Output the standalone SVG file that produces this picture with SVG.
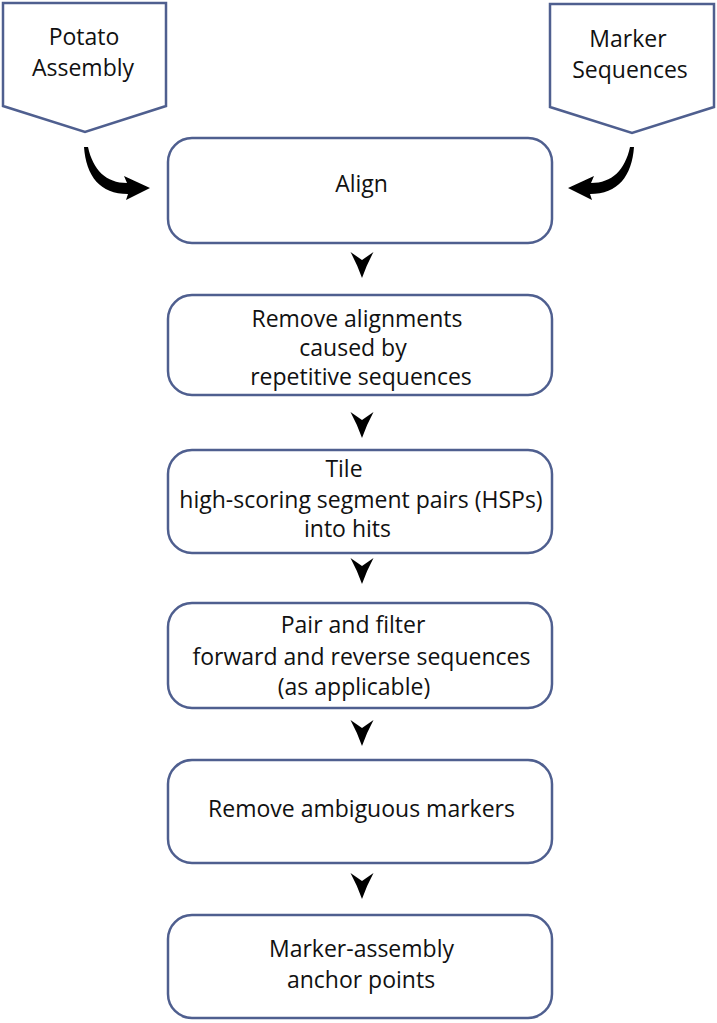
<svg xmlns="http://www.w3.org/2000/svg" width="717" height="1023" viewBox="0 0 717 1023">
<defs>
<style>
.box{fill:#fff;stroke:#4f5f8f;stroke-width:2.5}
.t{font-family:"Open Sans","Noto Sans",sans-serif;font-size:23px;fill:#111;text-anchor:middle}
.ah{fill:#000}
</style>
<path id="dn" d="M-11.5,0 L0,8 L11.5,0 Q5,12 0,26 Q-5,12 -11.5,0 Z"/>
<path id="curl" d="M84,147 C86,176 100,194 128,194 L126,200 L150,188 L124,176 L127,183 C106,183 93,170 88,147 Z"/>
</defs>
<rect width="717" height="1023" fill="#fff"/>
<g id="potato">
<polygon class="box" points="3,3 166,3 166,106 85,132 3,106"/>
<text class="t" x="84" y="45">Potato</text>
<text class="t" x="83" y="76">Assembly</text>
</g>
<g id="markers">
<polygon class="box" points="550,4 714,4 714,107 632,133 550,107"/>
<text class="t" x="628" y="47">Marker</text>
<text class="t" x="630" y="78">Sequences</text>
</g>
<g id="align">
<rect class="box" x="168" y="138" width="384" height="105" rx="24"/>
<text class="t" x="361.5" y="192">Align</text>
</g>
<g id="remove-rep">
<rect class="box" x="168" y="295" width="384" height="100" rx="24"/>
<text class="t" x="357" y="327">Remove alignments</text>
<text class="t" x="353" y="356">caused by</text>
<text class="t" x="361" y="385">repetitive sequences</text>
</g>
<g id="tile">
<rect class="box" x="168" y="450" width="384" height="103" rx="24"/>
<text class="t" x="344" y="477">Tile</text>
<text class="t" x="361" y="508">high-scoring segment pairs (HSPs)</text>
<text class="t" x="347.5" y="537">into hits</text>
</g>
<g id="pair">
<rect class="box" x="168" y="603" width="384" height="105" rx="24"/>
<text class="t" x="353" y="633">Pair and filter</text>
<text class="t" x="361.5" y="665">forward and reverse sequences</text>
<text class="t" x="354" y="695">(as applicable)</text>
</g>
<g id="ambiguous">
<rect class="box" x="168" y="760" width="384" height="103" rx="24"/>
<text class="t" x="361.5" y="817">Remove ambiguous markers</text>
</g>
<g id="anchor">
<rect class="box" x="168" y="915" width="384" height="103" rx="24"/>
<text class="t" x="361.5" y="957">Marker-assembly</text>
<text class="t" x="361" y="988">anchor points</text>
</g>
<g id="connectors" class="ah">
<use href="#curl"/>
<use href="#curl" transform="translate(718,0) scale(-1,1)"/>
<use href="#dn" x="362" y="252"/>
<use href="#dn" x="362" y="412"/>
<use href="#dn" x="362" y="558"/>
<use href="#dn" x="362" y="720"/>
<use href="#dn" x="362" y="873"/>
</g>
</svg>
